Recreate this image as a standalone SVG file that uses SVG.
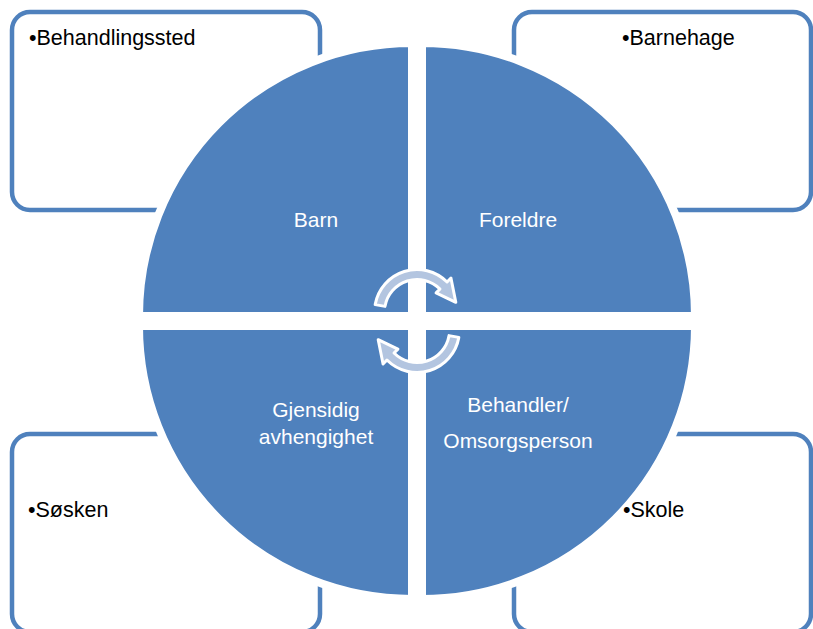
<svg xmlns="http://www.w3.org/2000/svg" width="813" height="629" viewBox="0 0 813 629">
  <style>
    .box { fill: #ffffff; stroke: #4f81bd; stroke-width: 4.5; }
    .quad { fill: #4f81bd; stroke: #ffffff; stroke-width: 8; stroke-linejoin: miter; }
    .btxt { font-family: "Liberation Sans", Arial, sans-serif; font-size: 21.5px; fill: #000000; }
    .qtxt { font-family: "Liberation Sans", Arial, sans-serif; font-size: 21px; fill: #ffffff; text-anchor: middle; }
    .arr { fill: #b3c5e0; stroke: #ffffff; stroke-width: 3; stroke-linejoin: round; }
  </style>
  <defs>
    <path id="q1" d="M 412 316 L 139 316 A 273 273 0 0 1 412 43 Z"/>
    <path id="q2" d="M 422 316 L 422 43 A 273 273 0 0 1 695 316 Z"/>
    <path id="q3" d="M 422 326 L 695 326 A 273 273 0 0 1 422 599 Z"/>
    <path id="q4" d="M 412 326 L 412 599 A 273 273 0 0 1 139 326 Z"/>
    <mask id="cut" maskUnits="userSpaceOnUse" x="0" y="0" width="813" height="629">
      <rect width="813" height="629" fill="#ffffff"/>
      <g fill="#000000" stroke="#000000" stroke-width="8">
        <use href="#q1"/><use href="#q2"/><use href="#q3"/><use href="#q4"/>
      </g>
    </mask>
    <path id="cyc" d="M 375.15 304.62 A 42.5 42.5 0 0 1 447.05 281.95 L 450.94 278.06 L 455.8 302.3 L 436.09 292.91 L 439.98 289.02 A 32.5 32.5 0 0 0 385.0 306.36 Z"/>
  </defs>
  <rect width="813" height="629" fill="#ffffff"/>

  <g id="q-barn">
    <use href="#q1" class="quad"/>
    <text class="qtxt" x="316" y="227">Barn</text>
  </g>
  <g id="q-foreldre">
    <use href="#q2" class="quad"/>
    <text class="qtxt" x="518" y="227">Foreldre</text>
  </g>
  <g id="q-behandler">
    <use href="#q3" class="quad"/>
    <text class="qtxt" x="518" y="412">Behandler/</text>
    <text class="qtxt" x="518" y="448">Omsorgsperson</text>
  </g>
  <g id="q-gjensidig">
    <use href="#q4" class="quad"/>
    <text class="qtxt" x="316" y="417">Gjensidig</text>
    <text class="qtxt" x="316" y="444">avhengighet</text>
  </g>

  <g id="box-behandlingssted">
    <rect class="box" x="12" y="12" width="308" height="198" rx="18" mask="url(#cut)"/>
    <text class="btxt" x="29" y="45">•Behandlingssted</text>
  </g>
  <g id="box-barnehage">
    <rect class="box" x="514" y="12" width="297" height="198" rx="18" mask="url(#cut)"/>
    <text class="btxt" x="622" y="45">•Barnehage</text>
  </g>
  <g id="box-sosken">
    <rect class="box" x="12" y="434" width="308" height="198" rx="18" mask="url(#cut)"/>
    <text class="btxt" x="28" y="517">•Søsken</text>
  </g>
  <g id="box-skole">
    <rect class="box" x="514" y="434" width="297" height="198" rx="18" mask="url(#cut)"/>
    <text class="btxt" x="623" y="517">•Skole</text>
  </g>

  <g id="connectors">
    <use href="#cyc" class="arr"/>
    <use href="#cyc" class="arr" transform="rotate(180 417 321)"/>
  </g>
</svg>
